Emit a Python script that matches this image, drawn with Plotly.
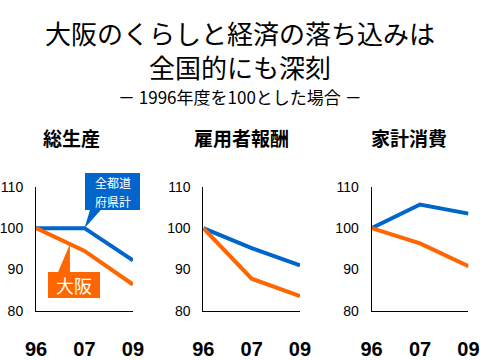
import plotly.graph_objects as go

years = ["96", "07", "09"]
panels = ["総生産", "雇用者報酬", "家計消費"]
zenkoku = [[100, 100, 92.2], [100, 95.2, 91.0], [100, 105.7, 103.5]]
osaka = [[100, 94.5, 86.4], [100, 87.8, 83.6], [100, 96.3, 90.8]]
yticks = [80, 90, 100, 110]
callout_zenkoku = ["全都道", "府県計"]
callout_osaka = "大阪"

BLUE = "#0066CC"
ORANGE = "#FF6600"
JP = "Noto Sans CJK JP"
LAT = "Liberation Sans"

W, H = 480, 360
domains = [(0.075, 0.277), (0.4236, 0.625), (0.774, 0.976)]
ydom = (0.1361, 0.4814)
YR = (80, 110)
xpos = list(range(len(years)))
XR = (0, len(years) - 1)


def to_paper(panel, xv, v):
    d0, d1 = domains[panel]
    px = d0 + (xv - XR[0]) / (XR[1] - XR[0]) * (d1 - d0)
    py = ydom[0] + (v - YR[0]) / (YR[1] - YR[0]) * (ydom[1] - ydom[0])
    return px, py


fig = go.Figure()
for i in range(3):
    xa = "x" if i == 0 else f"x{i+1}"
    ya = "y" if i == 0 else f"y{i+1}"
    fig.add_trace(go.Scatter(x=xpos, y=zenkoku[i], mode="lines", line=dict(color=BLUE, width=4),
                             xaxis=xa, yaxis=ya, cliponaxis=False, showlegend=False))
    fig.add_trace(go.Scatter(x=xpos, y=osaka[i], mode="lines", line=dict(color=ORANGE, width=4),
                             xaxis=xa, yaxis=ya, cliponaxis=False, showlegend=False))
    sfx = "" if i == 0 else str(i + 1)
    fig.layout["xaxis" + sfx] = dict(domain=list(domains[i]), range=list(XR), tickvals=xpos, ticktext=years,
                                     showline=True, linecolor="black", linewidth=1, showgrid=False,
                                     zeroline=False, ticks="", ticklabelstandoff=20, automargin=False,
                                     tickfont=dict(family=LAT, size=20, color="black", weight="bold"),
                                     anchor=ya, fixedrange=True)
    fig.layout["yaxis" + sfx] = dict(domain=list(ydom), range=list(YR), tickvals=yticks,
                                     showline=True, linecolor="black", linewidth=1, showgrid=False,
                                     zeroline=False, ticks="", ticklabelstandoff=9, automargin=False,
                                     tickfont=dict(family=LAT, size=14, color="black"),
                                     anchor=xa, fixedrange=True)

title_cx = [71.5, 241, 409]
for i in range(3):
    fig.add_annotation(text=panels[i], xref="paper", yref="paper",
                       x=title_cx[i] / W, y=1 - 137 / H,
                       showarrow=False, font=dict(family=JP, size=19, color="black", weight="bold"),
                       xanchor="center", yanchor="middle")

# Titles
fig.add_annotation(text="大阪のくらしと経済の落ち込みは", xref="paper", yref="paper", x=0.5, y=1 - 32 / H,
                   showarrow=False, font=dict(family=JP, size=26, color="black"), yanchor="middle")
fig.add_annotation(text="全国的にも深刻", xref="paper", yref="paper", x=0.5, y=1 - 66 / H,
                   showarrow=False, font=dict(family=JP, size=26, color="black"), yanchor="middle")
fig.add_annotation(text="－ 1996年度を100とした場合 －", xref="paper", yref="paper", x=0.5, y=1 - 97 / H,
                   showarrow=False, font=dict(family=JP, size=17, color="black"), yanchor="middle")

# Callouts (panel 1), in paper coords; pointer tips derived from data
bx0, bx1, by0, by1 = 85 / W, 140 / W, 1 - 210 / H, 1 - 173 / H
tip_b = to_paper(0, 1, zenkoku[0][1])
fig.add_shape(type="rect", xref="paper", yref="paper", x0=bx0, x1=bx1, y0=by0, y1=by1,
              fillcolor=BLUE, line=dict(width=0), layer="above")
fig.add_shape(type="path", xref="paper", yref="paper",
              path=f"M {90/W} {by0+0.001} L {101/W} {by0+0.001} L {tip_b[0]} {tip_b[1]} Z",
              fillcolor=BLUE, line=dict(width=0), layer="above")
for line_txt, cy in zip(callout_zenkoku, [182.0, 201.0]):
    fig.add_annotation(text=line_txt, xref="paper", yref="paper", x=(bx0 + bx1) / 2, y=1 - cy / H,
                       showarrow=False, font=dict(family=JP, size=12, color="white"),
                       xanchor="center", yanchor="middle")

ox0, ox1, oy0, oy1 = 48 / W, 100 / W, 1 - 298 / H, 1 - 272 / H
tip_o = to_paper(0, 0.70, osaka[0][0] + 0.70 * (osaka[0][1] - osaka[0][0]))
fig.add_shape(type="rect", xref="paper", yref="paper", x0=ox0, x1=ox1, y0=oy0, y1=oy1,
              fillcolor=ORANGE, line=dict(width=0), layer="above")
fig.add_shape(type="path", xref="paper", yref="paper",
              path=f"M {58/W} {oy1-0.001} L {tip_o[0]} {oy1-0.001} L {tip_o[0]} {tip_o[1]} Z",
              fillcolor=ORANGE, line=dict(width=0), layer="above")
fig.add_annotation(text=callout_osaka, xref="paper", yref="paper", x=(ox0 + ox1) / 2, y=(oy0 + oy1) / 2,
                   showarrow=False, font=dict(family=JP, size=18, color="white"),
                   xanchor="center", yanchor="middle")

fig.update_layout(width=W, height=H, margin=dict(l=0, r=0, t=0, b=0, autoexpand=False),
                  plot_bgcolor="white", paper_bgcolor="white", showlegend=False, template="none")
fig.write_html("out.html", config={"displayModeBar": False, "staticPlot": True},
               post_script="document.body.style.margin='0';document.body.style.overflow='hidden';")
